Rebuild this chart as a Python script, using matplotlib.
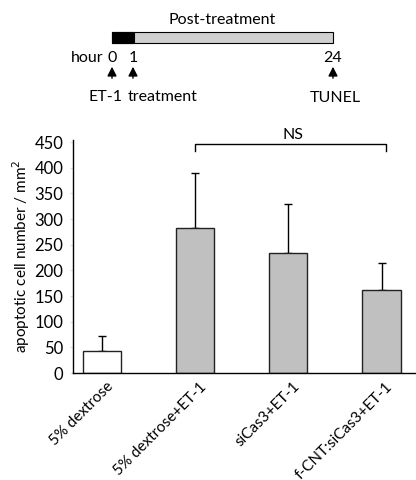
import matplotlib
matplotlib.use("Agg")
import matplotlib.pyplot as plt
import matplotlib.transforms as mtransforms
from matplotlib.patches import Rectangle

plt.rcParams['font.family'] = ['Lato', 'DejaVu Sans']

# data
groups = ["5% dextrose", "5% dextrose+ET-1", "siCas3+ET-1", "f-CNT:siCas3+ET-1"]
means = [42, 283, 234, 162]
errors = [30, 107, 95, 52]
bar_colors = ["white", "#c0c0c0", "#c0c0c0", "#c0c0c0"]
yticks = [0, 50, 100, 150, 200, 250, 300, 350, 400, 450]

# timeline schematic
hour_labels = ["0", "1", "24"]
hour_pos = [0, 0.095, 1.0]          # schematic positions along the bar
events = ["ET-1", "treatment", "TUNEL"]

fig = plt.figure(figsize=(4.16, 4.8), dpi=100)

# main bar chart
ax = fig.add_axes([73 / 416, 1 - 373 / 480, 343 / 416, 233 / 480])
x = list(range(len(groups)))
ax.bar(x, means, width=0.41, color=bar_colors, edgecolor="#222222", linewidth=1.0, zorder=2)
ax.errorbar(x, means, yerr=[[0] * len(errors), errors], fmt="none", ecolor="black",
            elinewidth=1.0, capsize=3, capthick=1.0, zorder=1)
ax.set_xlim(-0.31, 3.37)
ax.set_ylim(0, 454)
ax.set_yticks(yticks)
ax.set_yticklabels([str(v) for v in yticks], fontsize=12)
ax.tick_params(axis="y", length=2, color="#dddddd", pad=5)
ax.tick_params(axis="x", length=0, pad=4)
ax.spines["top"].set_visible(False)
ax.spines["right"].set_visible(False)
ax.spines["left"].set_linewidth(1.0)
ax.spines["bottom"].set_linewidth(1.0)
ax.set_xticks(x)
ax.set_xticklabels(groups, rotation=45, ha="right", va="center",
                   rotation_mode="anchor", fontsize=11)
offset = mtransforms.ScaledTranslation(0.09, -0.06, fig.dpi_scale_trans)
for lbl in ax.get_xticklabels():
    lbl.set_transform(lbl.get_transform() + offset)
ax.set_ylabel("apoptotic cell number / mm$^2$", fontsize=11, labelpad=2)

# NS bracket
ax.plot([1, 1, 3.05, 3.05], [432, 447, 447, 432], color="black", lw=1.0, clip_on=False)
ax.text(2.05, 451, "NS", ha="center", va="bottom", fontsize=11.5, clip_on=False)

# timeline overlay in pixel coordinates
tl = fig.add_axes([0, 0, 1, 1], zorder=-1)
tl.set_xlim(0, 416)
tl.set_ylim(480, 0)
tl.axis("off")
x0, x1 = 112, 333
px = [x0 + p * (x1 - x0) for p in hour_pos]
tl.add_patch(Rectangle((x0, 32), x1 - x0, 11, facecolor="#d0d0d0", edgecolor="black", lw=0.8))
tl.add_patch(Rectangle((x0, 32), px[1] - x0 + 1, 11, facecolor="black", edgecolor="black", lw=0.8))
tl.text((x0 + x1) / 2, 20, "Post-treatment", ha="center", va="center", fontsize=11.5)
tl.text(104, 58, "hour", ha="right", va="center", fontsize=11.5)
for p, h in zip(px, hour_labels):
    tl.text(p, 58, h, ha="center", va="center", fontsize=11.5)
    tl.annotate("", xy=(p, 64), xytext=(p, 81),
                arrowprops=dict(arrowstyle="-|>,head_width=0.28,head_length=0.55",
                                color="black", lw=1.0))
tl.text(106, 97, events[0], ha="center", va="center", fontsize=11.5)
tl.text(128, 97, events[1], ha="left", va="center", fontsize=11.5)
tl.text(px[2] + 2, 98, events[2], ha="center", va="center", fontsize=11.5)

fig.savefig("out.png", dpi=100)
